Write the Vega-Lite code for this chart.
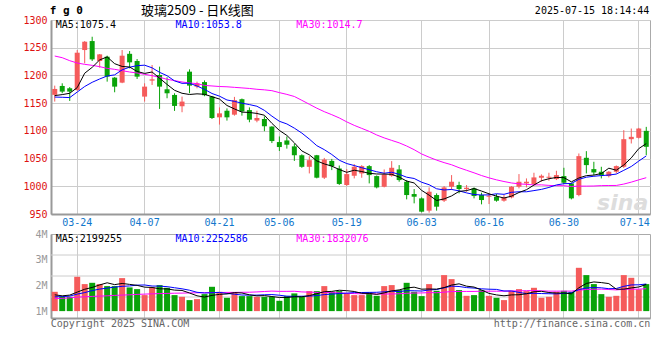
{
"$schema": "https://vega.github.io/schema/vega-lite/v6.json",
"background": "white",
"padding": {"left": 22, "top": 4, "right": 5, "bottom": 5},
"spacing": 0,
"config": {
 "view": {"stroke": "#aaaaaa", "strokeWidth": 1},
 "axis": {"labelFont": "DejaVu Sans Mono", "labelFontSize": 10, "ticks": false, "domainColor": "#999999", "domainWidth": 2, "gridColor": "#cccccc", "gridWidth": 1, "gridOpacity": 1, "title": null, "labelOverlap": false}
},
"datasets": {"k": [
{"d":"03-19","o":1165,"h":1181.6,"l":1152.8,"c":1175.6,"v":1.751,"m5":1163.6,"m10":1161,"m30":1235,"vm5":1.634,"vm10":1.556,"vm30":1.494},
{"d":"03-20","o":1181,"h":1185.8,"l":1167.8,"c":1170.8,"v":1.556,"m5":1165.4,"m10":1160.6,"m30":1232,"vm5":1.595,"vm10":1.564,"vm30":1.494},
{"d":"03-21","o":1176.8,"h":1179,"l":1154,"c":1170.8,"v":1.556,"m5":1167.8,"m10":1160,"m30":1226.6,"vm5":1.623,"vm10":1.584,"vm30":1.518},
{"d":"03-24","o":1173.8,"h":1245.8,"l":1172,"c":1241,"v":2.335,"m5":1178,"m10":1170,"m30":1222.4,"vm5":1.739,"vm10":1.661,"vm30":1.545},
{"d":"03-25","o":1245.8,"h":1262,"l":1221.8,"c":1260.8,"v":2.051,"m5":1204,"m10":1180,"m30":1220,"vm5":1.85,"vm10":1.72,"vm30":1.556},
{"d":"03-26","o":1262,"h":1269.8,"l":1226,"c":1229,"v":2.101,"m5":1214.6,"m10":1187.6,"m30":1218.2,"vm5":1.92,"vm10":1.798,"vm30":1.572},
{"d":"03-27","o":1226,"h":1238.6,"l":1214,"c":1238,"v":2.051,"m5":1228,"m10":1193.6,"m30":1215.8,"vm5":2.019,"vm10":1.856,"vm30":1.584},
{"d":"03-28","o":1233.8,"h":1235.6,"l":1188.8,"c":1197.8,"v":1.973,"m5":1233.4,"m10":1199,"m30":1212.8,"vm5":2.102,"vm10":1.895,"vm30":1.595},
{"d":"03-31","o":1196,"h":1197,"l":1169.6,"c":1179.8,"v":1.973,"m5":1221.2,"m10":1201,"m30":1211,"vm5":2.03,"vm10":1.934,"vm30":1.611},
{"d":"04-01","o":1187,"h":1245.8,"l":1186,"c":1235.6,"v":2.284,"m5":1216.2,"m10":1210.1,"m30":1208.6,"vm5":2.076,"vm10":1.963,"vm30":1.623},
{"d":"04-02","o":1239,"h":1244,"l":1212.8,"c":1223.6,"v":1.922,"m5":1215.2,"m10":1214.9,"m30":1206.2,"vm5":2.04,"vm10":1.98,"vm30":1.634},
{"d":"04-03","o":1226,"h":1229.6,"l":1193.6,"c":1197.8,"v":1.856,"m5":1207.2,"m10":1217.6,"m30":1204.4,"vm5":2.002,"vm10":2.01,"vm30":1.65},
{"d":"04-07","o":1161.8,"h":1185.8,"l":1152.8,"c":1179.8,"v":1.623,"m5":1203.6,"m10":1218.5,"m30":1202,"vm5":1.932,"vm10":2.017,"vm30":1.661},
{"d":"04-08","o":1190.6,"h":1218.8,"l":1182.8,"c":1193,"v":1.922,"m5":1206.2,"m10":1213.7,"m30":1199.6,"vm5":1.921,"vm10":1.976,"vm30":1.673},
{"d":"04-09","o":1200.8,"h":1215.8,"l":1139.6,"c":1179.8,"v":2.012,"m5":1195,"m10":1205.6,"m30":1196.6,"vm5":1.867,"vm10":1.972,"vm30":1.681},
{"d":"04-10","o":1175,"h":1196.6,"l":1158.8,"c":1167.8,"v":1.907,"m5":1183.8,"m10":1199.5,"m30":1193,"vm5":1.864,"vm10":1.952,"vm30":1.689},
{"d":"04-11","o":1164.8,"h":1167.8,"l":1136,"c":1145,"v":1.623,"m5":1173.2,"m10":1190.2,"m30":1190.6,"vm5":1.817,"vm10":1.909,"vm30":1.697},
{"d":"04-14","o":1144.4,"h":1161.8,"l":1133.6,"c":1152.8,"v":1.556,"m5":1167.8,"m10":1185.7,"m30":1188.2,"vm5":1.804,"vm10":1.868,"vm30":1.7},
{"d":"04-15","o":1206.8,"h":1211,"l":1167.8,"c":1181.6,"v":1.428,"m5":1165.6,"m10":1185.9,"m30":1186.4,"vm5":1.705,"vm10":1.813,"vm30":1.708},
{"d":"04-16","o":1179.8,"h":1188.8,"l":1176.8,"c":1185.8,"v":1.467,"m5":1166.8,"m10":1180.9,"m30":1185.2,"vm5":1.596,"vm10":1.732,"vm30":1.712},
{"d":"04-17","o":1188,"h":1191,"l":1162.5,"c":1164.3,"v":1.661,"m5":1166,"m10":1174.9,"m30":1182,"vm5":1.547,"vm10":1.705,"vm30":1.716},
{"d":"04-18","o":1161.9,"h":1163,"l":1121.4,"c":1123.2,"v":1.946,"m5":1161.6,"m10":1167.4,"m30":1181,"vm5":1.612,"vm10":1.714,"vm30":1.72},
{"d":"04-21","o":1124.4,"h":1142.3,"l":1111.3,"c":1131.6,"v":1.751,"m5":1157.4,"m10":1162.6,"m30":1180,"vm5":1.651,"vm10":1.727,"vm30":1.724},
{"d":"04-22","o":1136.3,"h":1140.5,"l":1118.5,"c":1124.4,"v":1.518,"m5":1145.8,"m10":1155.7,"m30":1179.5,"vm5":1.668,"vm10":1.687,"vm30":1.728},
{"d":"04-23","o":1129.2,"h":1161.3,"l":1127.4,"c":1155.4,"v":1.728,"m5":1139.6,"m10":1153.2,"m30":1178.5,"vm5":1.721,"vm10":1.658,"vm30":1.728},
{"d":"04-24","o":1157.1,"h":1158.3,"l":1127.4,"c":1135.1,"v":1.584,"m5":1133.8,"m10":1149.9,"m30":1177.5,"vm5":1.705,"vm10":1.626,"vm30":1.732},
{"d":"04-25","o":1137.5,"h":1142.3,"l":1115.5,"c":1120.2,"v":1.584,"m5":1133.2,"m10":1147.4,"m30":1176.5,"vm5":1.633,"vm10":1.622,"vm30":1.735},
{"d":"04-28","o":1118.5,"h":1136.3,"l":1115.5,"c":1123.2,"v":1.556,"m5":1131.4,"m10":1144.4,"m30":1175,"vm5":1.594,"vm10":1.622,"vm30":1.747},
{"d":"04-29","o":1121.4,"h":1126.2,"l":1099.4,"c":1108.3,"v":1.556,"m5":1128.2,"m10":1137,"m30":1174,"vm5":1.602,"vm10":1.635,"vm30":1.763},
{"d":"04-30","o":1107.7,"h":1108.3,"l":1078,"c":1081.6,"v":1.556,"m5":1113.6,"m10":1126.6,"m30":1172.5,"vm5":1.567,"vm10":1.644,"vm30":1.779},
{"d":"05-06","o":1079.8,"h":1089.9,"l":1063.7,"c":1070.8,"v":1.401,"m5":1100.8,"m10":1117.3,"m30":1169,"vm5":1.531,"vm10":1.618,"vm30":1.768},
{"d":"05-07","o":1082.7,"h":1089.9,"l":1067.9,"c":1075,"v":1.584,"m5":1091.8,"m10":1112.5,"m30":1165.8,"vm5":1.531,"vm10":1.582,"vm30":1.769},
{"d":"05-08","o":1072,"h":1076.8,"l":1045.8,"c":1056,"v":1.689,"m5":1078.4,"m10":1104.9,"m30":1162,"vm5":1.557,"vm10":1.575,"vm30":1.773},
{"d":"05-09","o":1056,"h":1057.7,"l":1033.3,"c":1035.1,"v":1.556,"m5":1063.8,"m10":1096,"m30":1155.1,"vm5":1.557,"vm10":1.579,"vm30":1.747},
{"d":"05-12","o":1035.1,"h":1054.2,"l":1023.2,"c":1047.1,"v":1.778,"m5":1056.8,"m10":1085.2,"m30":1148,"vm5":1.602,"vm10":1.584,"vm30":1.738},
{"d":"05-13","o":1056,"h":1056.6,"l":1014.3,"c":1015.5,"v":1.778,"m5":1045.8,"m10":1073.3,"m30":1140.9,"vm5":1.677,"vm10":1.604,"vm30":1.727},
{"d":"05-14","o":1015.5,"h":1051.2,"l":1013.1,"c":1048.2,"v":1.973,"m5":1040.4,"m10":1066.1,"m30":1134.6,"vm5":1.755,"vm10":1.643,"vm30":1.725},
{"d":"05-15","o":1045.8,"h":1049.4,"l":1029.2,"c":1036.3,"v":1.751,"m5":1036.4,"m10":1057.4,"m30":1129.2,"vm5":1.767,"vm10":1.662,"vm30":1.718},
{"d":"05-16","o":1032.1,"h":1037.5,"l":1002.4,"c":1004.2,"v":1.778,"m5":1030.2,"m10":1047,"m30":1123.3,"vm5":1.812,"vm10":1.684,"vm30":1.711},
{"d":"05-19","o":1002.3,"h":1031,"l":1000.6,"c":1022,"v":1.689,"m5":1025.2,"m10":1041,"m30":1116.2,"vm5":1.794,"vm10":1.698,"vm30":1.691},
{"d":"05-20","o":1019,"h":1040,"l":1014.2,"c":1035.2,"v":1.623,"m5":1029,"m10":1037.4,"m30":1109.9,"vm5":1.763,"vm10":1.72,"vm30":1.681},
{"d":"05-21","o":1023.2,"h":1038.2,"l":1015.4,"c":1036.4,"v":1.623,"m5":1026.6,"m10":1033.5,"m30":1104.5,"vm5":1.693,"vm10":1.724,"vm30":1.673},
{"d":"05-22","o":1036.4,"h":1038.2,"l":1005.2,"c":1020.2,"v":1.728,"m5":1023.4,"m10":1029.9,"m30":1099.1,"vm5":1.688,"vm10":1.728,"vm30":1.677},
{"d":"05-23","o":1018.4,"h":1019.6,"l":996.2,"c":998,"v":1.595,"m5":1022.2,"m10":1026.2,"m30":1092.6,"vm5":1.651,"vm10":1.732,"vm30":1.666},
{"d":"05-26","o":999.2,"h":1030.4,"l":998,"c":1021.4,"v":1.973,"m5":1022,"m10":1023.6,"m30":1087.3,"vm5":1.708,"vm10":1.751,"vm30":1.665},
{"d":"05-27","o":1019,"h":1045.4,"l":1017.2,"c":1033.4,"v":2.012,"m5":1021.6,"m10":1025.3,"m30":1082.8,"vm5":1.786,"vm10":1.774,"vm30":1.668},
{"d":"05-28","o":1030.4,"h":1038.2,"l":1008.2,"c":1011.2,"v":1.817,"m5":1016.6,"m10":1021.6,"m30":1078.4,"vm5":1.825,"vm10":1.759,"vm30":1.675},
{"d":"05-29","o":1008.2,"h":1011.2,"l":976.4,"c":984.2,"v":2.101,"m5":1009.4,"m10":1016.4,"m30":1072.7,"vm5":1.9,"vm10":1.794,"vm30":1.693},
{"d":"05-30","o":986,"h":995,"l":969.2,"c":981.2,"v":1.751,"m5":1006,"m10":1014.1,"m30":1066,"vm5":1.931,"vm10":1.791,"vm30":1.704},
{"d":"06-03","o":978.2,"h":980,"l":953,"c":954.2,"v":1.584,"m5":992.6,"m10":1007.3,"m30":1058.3,"vm5":1.853,"vm10":1.781,"vm30":1.707},
{"d":"06-04","o":956,"h":998,"l":952.4,"c":990.2,"v":2.051,"m5":984,"m10":1002.8,"m30":1052.5,"vm5":1.861,"vm10":1.823,"vm30":1.72},
{"d":"06-05","o":984.2,"h":987.2,"l":956,"c":963.2,"v":1.79,"m5":974.4,"m10":995.5,"m30":1047.2,"vm5":1.855,"vm10":1.84,"vm30":1.715},
{"d":"06-06","o":974,"h":1000.4,"l":971.6,"c":998,"v":2.401,"m5":977.2,"m10":993.3,"m30":1042.7,"vm5":1.915,"vm10":1.907,"vm30":1.737},
{"d":"06-09","o":999.2,"h":1020.2,"l":993.2,"c":1008.2,"v":2.245,"m5":982.6,"m10":994.3,"m30":1038.8,"vm5":2.014,"vm10":1.972,"vm30":1.761},
{"d":"06-10","o":1002.2,"h":1008.2,"l":987.2,"c":995,"v":1.817,"m5":990.8,"m10":991.7,"m30":1033.5,"vm5":2.061,"vm10":1.957,"vm30":1.764},
{"d":"06-11","o":995,"h":1002.2,"l":990.2,"c":997.4,"v":1.595,"m5":992.2,"m10":988.1,"m30":1028.9,"vm5":1.97,"vm10":1.915,"vm30":1.765},
{"d":"06-12","o":996.2,"h":998,"l":978.2,"c":982.4,"v":1.623,"m5":996,"m10":985.2,"m30":1024.3,"vm5":1.936,"vm10":1.896,"vm30":1.766},
{"d":"06-13","o":984.2,"h":988.4,"l":967.4,"c":975.2,"v":1.817,"m5":991.4,"m10":984.3,"m30":1019.4,"vm5":1.819,"vm10":1.867,"vm30":1.774},
{"d":"06-16","o":981.2,"h":987.2,"l":968,"c":983,"v":1.595,"m5":986.4,"m10":984.5,"m30":1015.2,"vm5":1.69,"vm10":1.852,"vm30":1.776},
{"d":"06-17","o":981.2,"h":986,"l":972.2,"c":974,"v":1.518,"m5":982.2,"m10":986.5,"m30":1011.6,"vm5":1.63,"vm10":1.845,"vm30":1.774},
{"d":"06-18","o":974,"h":984.2,"l":972.2,"c":980,"v":1.428,"m5":978.8,"m10":985.5,"m30":1008.6,"vm5":1.596,"vm10":1.783,"vm30":1.776},
{"d":"06-19","o":980,"h":1000.4,"l":978.2,"c":999.2,"v":1.79,"m5":982.2,"m10":989.1,"m30":1006,"vm5":1.63,"vm10":1.783,"vm30":1.782},
{"d":"06-20","o":999.2,"h":1022,"l":996.2,"c":1008.2,"v":1.856,"m5":988.8,"m10":990.1,"m30":1004.4,"vm5":1.637,"vm10":1.728,"vm30":1.788},
{"d":"06-23","o":1005.2,"h":1014.2,"l":998,"c":1008.2,"v":1.778,"m5":993.8,"m10":990.1,"m30":1003.5,"vm5":1.674,"vm10":1.682,"vm30":1.795},
{"d":"06-24","o":1004,"h":1024.4,"l":1002.2,"c":1016,"v":1.907,"m5":1002.2,"m10":992.2,"m30":1002.5,"vm5":1.752,"vm10":1.691,"vm30":1.8},
{"d":"06-25","o":1015.4,"h":1021.4,"l":1008.2,"c":1019,"v":1.518,"m5":1010,"m10":994.4,"m30":1002.6,"vm5":1.77,"vm10":1.683,"vm30":1.791},
{"d":"06-26","o":1015.4,"h":1024.4,"l":1010,"c":1017.2,"v":1.556,"m5":1013.6,"m10":997.9,"m30":1001.6,"vm5":1.723,"vm10":1.676,"vm30":1.777},
{"d":"06-27","o":1013,"h":1028,"l":1011.2,"c":1020.2,"v":1.751,"m5":1016,"m10":1002.4,"m30":1001,"vm5":1.702,"vm10":1.67,"vm30":1.777},
{"d":"06-30","o":1018.4,"h":1033.4,"l":1004,"c":1006.4,"v":1.79,"m5":1015.6,"m10":1004.7,"m30":1001.1,"vm5":1.704,"vm10":1.689,"vm30":1.777},
{"d":"07-01","o":1005.2,"h":1006.4,"l":976.4,"c":978.2,"v":1.751,"m5":1008,"m10":1005.1,"m30":999.6,"vm5":1.673,"vm10":1.712,"vm30":1.779},
{"d":"07-02","o":984.2,"h":1059.2,"l":982,"c":1054.4,"v":2.685,"m5":1015,"m10":1012.5,"m30":1000.3,"vm5":1.907,"vm10":1.838,"vm30":1.815},
{"d":"07-03","o":1051.4,"h":1063.4,"l":1023.2,"c":1038.2,"v":2.401,"m5":1019.2,"m10":1016.4,"m30":1000.3,"vm5":2.076,"vm10":1.899,"vm30":1.841},
{"d":"07-04","o":1031,"h":1044.2,"l":1020.2,"c":1025,"v":2.051,"m5":1020.2,"m10":1018.1,"m30":1000.5,"vm5":2.135,"vm10":1.919,"vm30":1.851},
{"d":"07-07","o":1026.2,"h":1035.2,"l":1014.2,"c":1020.2,"v":1.661,"m5":1023,"m10":1019.3,"m30":1001.2,"vm5":2.11,"vm10":1.907,"vm30":1.854},
{"d":"07-08","o":1018.4,"h":1027.4,"l":1016,"c":1026.2,"v":1.556,"m5":1032.6,"m10":1020.3,"m30":1001.4,"vm5":2.071,"vm10":1.872,"vm30":1.84},
{"d":"07-09","o":1026.2,"h":1037.6,"l":1023.2,"c":1036.4,"v":1.595,"m5":1029,"m10":1022,"m30":1001.5,"vm5":1.853,"vm10":1.88,"vm30":1.826},
{"d":"07-10","o":1035.2,"h":1101.2,"l":1033,"c":1085,"v":2.401,"m5":1038.4,"m10":1028.8,"m30":1004,"vm5":1.853,"vm10":1.964,"vm30":1.846},
{"d":"07-11","o":1085,"h":1104.2,"l":1077.2,"c":1089.2,"v":2.296,"m5":1051.2,"m10":1035.7,"m30":1007.5,"vm5":1.902,"vm10":2.019,"vm30":1.852},
{"d":"07-14","o":1087.4,"h":1105.4,"l":1086.2,"c":1104.2,"v":1.844,"m5":1068,"m10":1045.5,"m30":1011.6,"vm5":1.939,"vm10":2.024,"vm30":1.855},
{"d":"07-15","o":1100,"h":1107.2,"l":1056.2,"c":1071.2,"v":2.051,"m5":1077,"m10":1054.8,"m30":1015.5,"vm5":2.037,"vm10":2.054,"vm30":1.87}
]},
"vconcat": [
{
 "width": 599, "height": 194,
 "data": {"name": "k"},
 "encoding": {
  "x": {"field": "d", "type": "ordinal", "scale": {"paddingInner": 0, "paddingOuter": 0},
   "axis": {"values": ["03-24","04-07","04-21","05-06","05-19","06-03","06-16","06-30","07-14"], "labelAngle": 0, "labelColor": "#1177cc", "labelPadding": 3, "grid": true,
    "labelOffset": {"condition": {"test": "datum.value == '07-14'", "value": -4}, "value": 0}}}
 },
 "layer": [
  {"mark": {"type": "rule", "strokeWidth": 1},
   "encoding": {
    "y": {"field": "l", "type": "quantitative", "scale": {"domain": [950, 1300], "nice": false, "zero": false},
     "axis": {"tickCount": 7, "labelExpr": "format(datum.value, 'd')", "labelColor": "#dd1111", "labelPadding": 4, "labelOverlap": false, "grid": true}},
    "y2": {"field": "h"},
    "color": {"condition": {"test": "datum.c >= datum.o", "value": "#f55b5b"}, "value": "#09a309"}
   }},
  {"mark": {"type": "bar", "size": 5},
   "encoding": {
    "y": {"field": "o", "type": "quantitative"},
    "y2": {"field": "c"},
    "color": {"condition": {"test": "datum.c >= datum.o", "value": "#f55b5b"}, "value": "#09a309"}
   }},
  {"mark": {"type": "line", "color": "#ff00ff", "strokeWidth": 1}, "encoding": {"y": {"field": "m30", "type": "quantitative"}}},
  {"mark": {"type": "line", "color": "#0000ff", "strokeWidth": 1}, "encoding": {"y": {"field": "m10", "type": "quantitative"}}},
  {"mark": {"type": "line", "color": "#000000", "strokeWidth": 1}, "encoding": {"y": {"field": "m5", "type": "quantitative"}}},
  {"data": {"values": [{}]},
   "mark": {"type": "text", "text": "sina", "font": "DejaVu Sans", "fontSize": 22, "fontWeight": "bold", "fontStyle": "italic", "color": "#dddddd", "align": "right", "baseline": "middle", "dx": 2},
   "encoding": {"x": {"datum": "07-15", "type": "ordinal"}, "y": {"datum": 970, "type": "quantitative"}}},
  {"data": {"values": [{}]},
   "mark": {"type": "text", "text": "f g 0", "font": "DejaVu Sans Mono", "fontSize": 11, "fontWeight": "bold", "color": "#000000", "align": "left", "baseline": "middle", "dx": -5},
   "encoding": {"x": {"datum": "03-19", "type": "ordinal"}, "y": {"datum": 1316, "type": "quantitative"}}},
  {"data": {"values": [{}]},
   "mark": {"type": "text", "text": "玻璃2509 - 日K线图", "font": "Noto Sans CJK SC", "fontSize": 13, "color": "#000000", "align": "left", "baseline": "middle", "dx": 4},
   "encoding": {"x": {"datum": "04-03", "type": "ordinal"}, "y": {"datum": 1316, "type": "quantitative"}}},
  {"data": {"values": [{}]},
   "mark": {"type": "text", "text": "2025-07-15 18:14:44", "font": "DejaVu Sans Mono", "fontSize": 10, "color": "#000000", "align": "right", "baseline": "middle", "dx": 3},
   "encoding": {"x": {"datum": "07-15", "type": "ordinal"}, "y": {"datum": 1316, "type": "quantitative"}}},
  {"data": {"values": [{}]},
   "mark": {"type": "text", "text": "MA5:1075.4", "font": "DejaVu Sans Mono", "fontSize": 10, "color": "#000000", "align": "left", "baseline": "middle", "dx": 1},
   "encoding": {"x": {"datum": "03-19", "type": "ordinal"}, "y": {"datum": 1291, "type": "quantitative"}}},
  {"data": {"values": [{}]},
   "mark": {"type": "text", "text": "MA10:1053.8", "font": "DejaVu Sans Mono", "fontSize": 10, "color": "#0000ff", "align": "left", "baseline": "middle", "dx": 1},
   "encoding": {"x": {"datum": "04-11", "type": "ordinal"}, "y": {"datum": 1291, "type": "quantitative"}}},
  {"data": {"values": [{}]},
   "mark": {"type": "text", "text": "MA30:1014.7", "font": "DejaVu Sans Mono", "fontSize": 10, "color": "#ff00ff", "align": "left", "baseline": "middle", "dx": 2},
   "encoding": {"x": {"datum": "05-08", "type": "ordinal"}, "y": {"datum": 1291, "type": "quantitative"}}}
 ]
},
{
 "width": 599, "height": 84,
 "layer": [
  {"data": {"values": [{}]}, "mark": {"type": "rule", "color": "#cccccc", "strokeWidth": 1}, "encoding": {"y": {"datum": 1.549, "type": "quantitative"}}},
  {"data": {"values": [{}]}, "mark": {"type": "rule", "color": "#cccccc", "strokeWidth": 1}, "encoding": {"y": {"datum": 2.366, "type": "quantitative"}}},
  {"data": {"values": [{}]}, "mark": {"type": "rule", "color": "#cccccc", "strokeWidth": 1}, "encoding": {"y": {"datum": 3.183, "type": "quantitative"}}},
  {
   "data": {"name": "k"},
   "encoding": {
    "x": {"field": "d", "type": "ordinal", "scale": {"paddingInner": 0, "paddingOuter": 0},
     "axis": {"values": ["03-24","04-07","04-21","05-06","05-19","06-03","06-16","06-30","07-14"], "labels": false, "grid": true}}
   },
   "layer": [
    {"mark": {"type": "bar", "size": 6},
     "encoding": {
      "y": {"field": "v", "type": "quantitative", "scale": {"domain": [0.732, 4], "nice": false, "zero": false},
       "axis": {"tickCount": 4, "labelExpr": "datum.value + 'M'", "labelColor": "#999999", "labelPadding": 4, "labelOverlap": false, "grid": false}},
      "y2": {"datum": 1},
      "color": {"condition": {"test": "datum.c >= datum.o", "value": "#f55b5b"}, "value": "#09a309"}
     }},
    {"mark": {"type": "line", "color": "#ff00ff", "strokeWidth": 1}, "encoding": {"y": {"field": "vm30", "type": "quantitative"}}},
    {"mark": {"type": "line", "color": "#0000ff", "strokeWidth": 1}, "encoding": {"y": {"field": "vm10", "type": "quantitative"}}},
    {"mark": {"type": "line", "color": "#000000", "strokeWidth": 1}, "encoding": {"y": {"field": "vm5", "type": "quantitative"}}},
    {"data": {"values": [{}]},
     "mark": {"type": "text", "text": "MA5:2199255", "font": "DejaVu Sans Mono", "fontSize": 10, "color": "#000000", "align": "left", "baseline": "middle", "dx": 1},
     "encoding": {"x": {"datum": "03-19", "type": "ordinal"}, "y": {"datum": 3.82, "type": "quantitative"}}},
    {"data": {"values": [{}]},
     "mark": {"type": "text", "text": "MA10:2252586", "font": "DejaVu Sans Mono", "fontSize": 10, "color": "#0000ff", "align": "left", "baseline": "middle", "dx": 1},
     "encoding": {"x": {"datum": "04-11", "type": "ordinal"}, "y": {"datum": 3.82, "type": "quantitative"}}},
    {"data": {"values": [{}]},
     "mark": {"type": "text", "text": "MA30:1832076", "font": "DejaVu Sans Mono", "fontSize": 10, "color": "#ff00ff", "align": "left", "baseline": "middle", "dx": 2},
     "encoding": {"x": {"datum": "05-08", "type": "ordinal"}, "y": {"datum": 3.82, "type": "quantitative"}}},
    {"data": {"values": [{}]},
     "mark": {"type": "text", "text": "Copyright 2025 SINA.COM", "font": "DejaVu Sans Mono", "fontSize": 10, "color": "#666666", "align": "left", "baseline": "middle", "dx": -4},
     "encoding": {"x": {"datum": "03-19", "type": "ordinal"}, "y": {"datum": 0.494, "type": "quantitative"}}},
    {"data": {"values": [{}]},
     "mark": {"type": "text", "text": "http://finance.sina.com.cn", "font": "DejaVu Sans Mono", "fontSize": 10, "color": "#666666", "align": "right", "baseline": "middle", "dx": 4},
     "encoding": {"x": {"datum": "07-15", "type": "ordinal"}, "y": {"datum": 0.494, "type": "quantitative"}}}
   ]
  }
 ]
}
]
}
